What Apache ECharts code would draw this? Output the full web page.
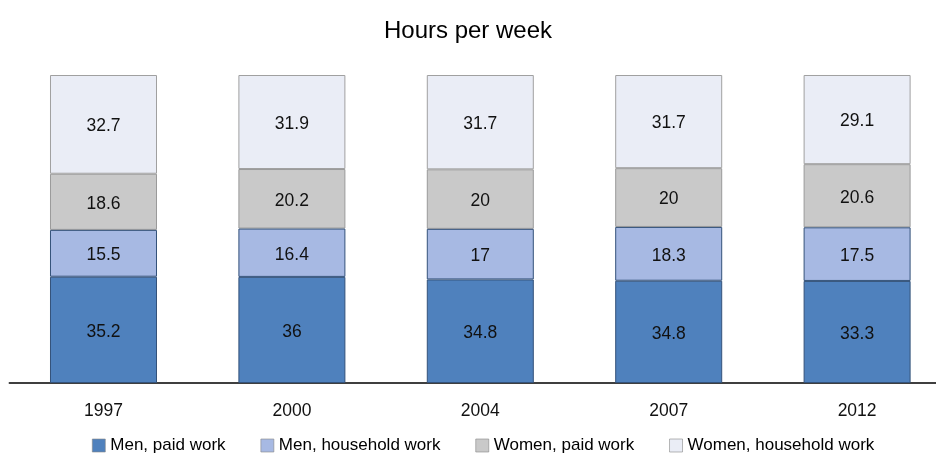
<!DOCTYPE html>
<html><head><meta charset="utf-8">
<script src="https://cdn.jsdelivr.net/npm/echarts@6/dist/echarts.min.js"></script>
<style>html,body{margin:0;padding:0;background:#fff}#c{width:936px;height:455px}</style>
</head><body><div id="c"></div>
<script>
const categories = ['1997', '2000', '2004', '2007', '2012'];
const menPaid = [35.2, 36, 34.8, 34.8, 33.3];
const menHousehold = [15.5, 16.4, 17, 18.3, 17.5];
const womenPaid = [18.6, 20.2, 20, 20, 20.6];
const womenHousehold = [32.7, 31.9, 31.7, 31.7, 29.1];
const seriesNames = ['Men, paid work', 'Men, household work', 'Women, paid work', 'Women, household work'];

const all = [menPaid, menHousehold, womenPaid, womenHousehold];
const totals = categories.map((_, i) => all.reduce((s, a) => s + a[i], 0));
const colors = ['#4f81bd', '#a7b9e3', '#c9c9c9', '#eaedf6'];
const borders = ['#34527a', '#34527a', '#9a9a9a', '#a0a0a0'];
const font = '"Liberation Sans", Arial, sans-serif';

const series = all.map((arr, k) => ({
  name: seriesNames[k],
  type: 'bar',
  stack: 'total',
  barWidth: '56.8%',
  z: k === 1 ? 3 : 2,
  data: arr.map((v, i) => ({ value: v / totals[i] * 100, raw: v })),
  itemStyle: { color: colors[k], borderColor: borders[k], borderWidth: 1 },
  label: {
    show: true, position: 'inside', color: '#111',
    fontFamily: font, fontSize: 17.5, offset: [0, 2],
    formatter: p => String(p.data.raw)
  }
}));

const chart = echarts.init(document.getElementById('c'), null, { renderer: 'canvas' });
chart.setOption({
  animation: false,
  backgroundColor: '#fff',
  title: {
    text: 'Hours per week', left: 'center', top: 14,
    textStyle: { fontFamily: font, fontSize: 24, fontWeight: 'normal', color: '#000' }
  },
  legend: {
    bottom: -4, left: 87, itemWidth: 13, itemHeight: 13, itemGap: 35, icon: 'rect',
    textStyle: { fontFamily: font, fontSize: 17, color: '#000' },
    itemStyle: { borderColor: '#888', borderWidth: 0.6 },
    data: seriesNames
  },
  grid: { left: 9.3, right: -15.3, top: 75, bottom: 72, outerBoundsMode: 'none' },
  xAxis: {
    type: 'category', data: categories,
    axisLine: { lineStyle: { color: '#000', width: 1.5 } },
    axisTick: { show: false },
    axisLabel: { fontFamily: font, fontSize: 17.5, color: '#111', margin: 19 }
  },
  yAxis: { type: 'value', min: 0, max: 100, show: false, splitLine: { show: false } },
  series
});
</script></body></html>
